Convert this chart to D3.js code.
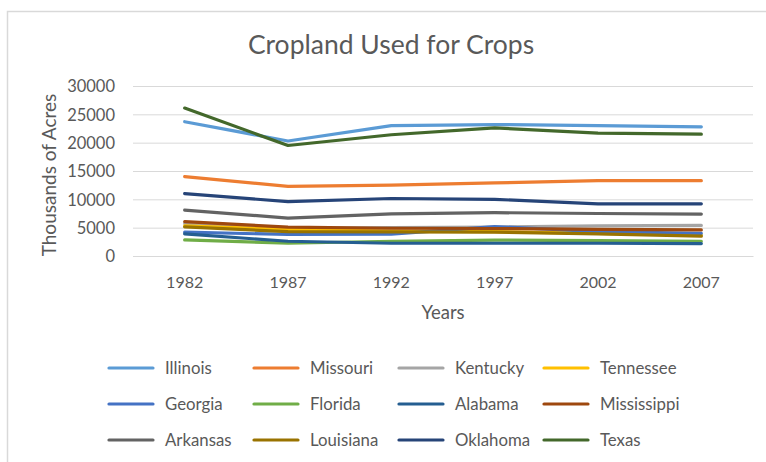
<!DOCTYPE html>
<html>
<head>
<meta charset="utf-8">
<script src="https://cdn.jsdelivr.net/npm/d3@7/dist/d3.min.js"></script>
<style>
  html, body { margin: 0; padding: 0; background: #fff; }
  svg { display: block; }
  text { font-family: Lato, "Open Sans", sans-serif; fill: #595959; }
</style>
</head>
<body>
<svg id="chart" width="766" height="462"></svg>
<script>
const years = ["1982", "1987", "1992", "1997", "2002", "2007"];
const yTicks = [0, 5000, 10000, 15000, 20000, 25000, 30000];
const seriesNames = ["Illinois", "Missouri", "Kentucky", "Tennessee", "Georgia", "Florida",
                     "Alabama", "Mississippi", "Arkansas", "Louisiana", "Oklahoma", "Texas"];
const illinois    = [23700, 20300, 23000, 23200, 23000, 22800];
const missouri    = [14000, 12300, 12500, 12900, 13300, 13300];
const kentucky    = [5700, 4900, 5000, 5100, 5300, 5400];
const tennessee   = [5300, 4700, 4400, 4300, 4000, 3700];
const georgia     = [4200, 3800, 3850, 5200, 4300, 4000];
const florida     = [2850, 2250, 2600, 2800, 2700, 2600];
const alabama     = [3900, 2600, 2250, 2250, 2250, 2200];
const mississippi = [6050, 5100, 4900, 4850, 4700, 4600];
const arkansas    = [8100, 6700, 7450, 7650, 7500, 7400];
const louisiana   = [5150, 4300, 4250, 4200, 3900, 3500];
const oklahoma    = [11000, 9600, 10150, 10000, 9200, 9200];
const texas       = [26100, 19500, 21400, 22600, 21700, 21500];
const seriesValues = [illinois, missouri, kentucky, tennessee, georgia, florida,
                      alabama, mississippi, arkansas, louisiana, oklahoma, texas];
const colors = ["#5B9BD5", "#ED7D31", "#A5A5A5", "#FFC000", "#4472C4", "#70AD47",
                "#255E91", "#9E480E", "#636363", "#997300", "#264478", "#43682B"];

const svg = d3.select("#chart");

// chart border
svg.append("rect").attr("x", 7.5).attr("y", 11.5).attr("width", 800).attr("height", 500)
  .attr("fill", "none").attr("stroke", "#d9d9d9").attr("stroke-width", 1.5);

const plot = { left: 133, right: 753, top: 86, bottom: 256 };

const x = d3.scaleBand().domain(years).range([plot.left, plot.right]);
const y = d3.scaleLinear().domain([0, 30000]).range([plot.bottom, plot.top]);

// title
svg.append("text").attr("x", 391).attr("y", 54).attr("text-anchor", "middle")
  .style("font-size", "26.5px").text("Cropland Used for Crops");

// gridlines
const grid = svg.append("g")
  .call(d3.axisLeft(y).tickValues(yTicks).tickSize(-(plot.right - plot.left)).tickFormat(d3.format("d")))
  .attr("transform", `translate(${plot.left},0)`);
grid.select(".domain").remove();
grid.selectAll(".tick line").attr("stroke", "#d9d9d9").attr("stroke-width", 1);
grid.selectAll(".tick text").attr("x", -18).attr("dy", "0.35em")
  .style("font-size", "16.5px").style("fill", "#595959").style("font-family", "Lato, sans-serif");

// x axis
const xa = svg.append("g").attr("transform", `translate(0,${plot.bottom})`)
  .call(d3.axisBottom(x).tickSize(0));
xa.select(".domain").attr("stroke", "#d9d9d9");
xa.selectAll(".tick text").attr("dy", "0").attr("y", 32)
  .style("font-size", "16px").style("fill", "#595959").style("font-family", "Lato, sans-serif");

// axis titles
svg.append("text").attr("x", (plot.left + plot.right) / 2).attr("y", 319).attr("text-anchor", "middle")
  .style("font-size", "18.5px").text("Years");
svg.append("text").attr("transform", `translate(56,${(plot.top + plot.bottom) / 2 + 4}) rotate(-90)`)
  .attr("text-anchor", "middle").style("font-size", "19px").text("Thousands of Acres");

// lines
const line = d3.line().x((d, i) => x(years[i]) + x.bandwidth() / 2).y(d => y(d));
svg.append("g").selectAll("path").data(seriesValues).join("path")
  .attr("d", d => line(d)).attr("fill", "none")
  .attr("stroke", (d, i) => colors[i]).attr("stroke-width", 3.2)
  .attr("stroke-linecap", "round").attr("stroke-linejoin", "round");

// legend
const colX = [109, 254, 399, 544];
const rowY = [368, 404, 440];
const lg = svg.append("g").selectAll("g").data(seriesNames).join("g")
  .attr("transform", (d, i) => `translate(${colX[i % 4]},${rowY[Math.floor(i / 4)]})`);
lg.append("line").attr("x1", 0).attr("x2", 44).attr("y1", 0).attr("y2", 0)
  .attr("stroke", (d, i) => colors[i]).attr("stroke-width", 3.2).attr("stroke-linecap", "round");
lg.append("text").attr("x", 56).attr("dy", "0.35em").style("font-size", "16.8px").text(d => d);
</script>
</body>
</html>
